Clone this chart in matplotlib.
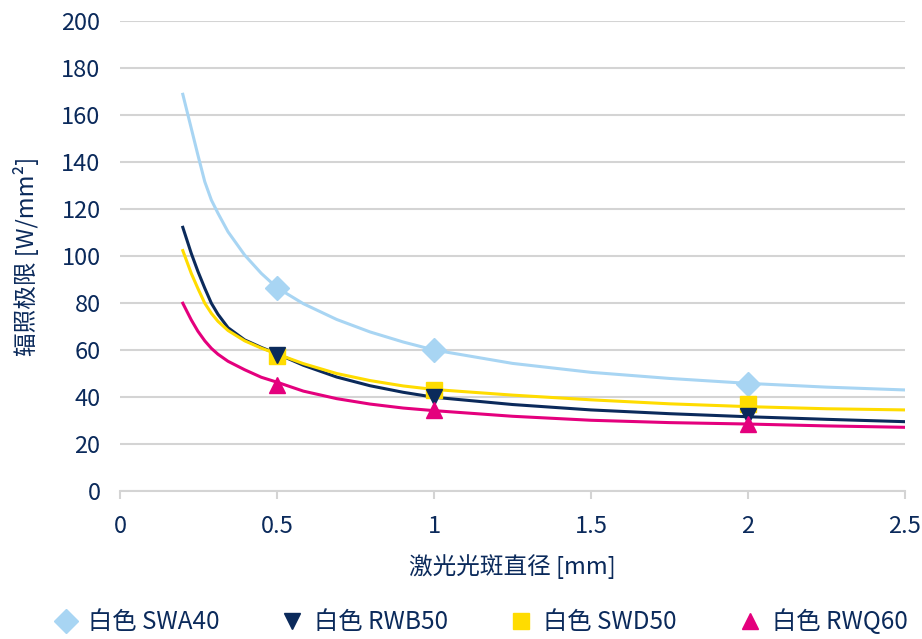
import matplotlib.pyplot as plt

plt.rcParams['font.family'] = ['Noto Sans CJK SC', 'DejaVu Sans']

# 拟合曲线
curve_x = [0.2, 0.227, 0.248, 0.27, 0.291, 0.312, 0.344, 0.397, 0.45, 0.5,
           0.584, 0.69, 0.796, 0.902, 1.0, 1.25, 1.5, 1.75, 2.0, 2.25, 2.5]
swa40_curve = [168.8, 154.3, 143, 131.6, 123.8, 118.2, 110.3, 100.4, 92.6, 86.5,
               79.7, 73, 67.7, 63.4, 60, 54.3, 50.5, 47.9, 45.8, 44.2, 43]
rwb50_curve = [112.2, 101.1, 93.5, 86.3, 79.9, 75.2, 69.5, 64.3, 61.1, 58.4,
               53.5, 48.5, 44.8, 42.0, 39.9, 36.8, 34.5, 32.9, 31.6, 30.5, 29.5]
swd50_curve = [102.3, 92.6, 86.2, 79.9, 75.6, 72.2, 68.3, 63.9, 60.8, 58.3,
               54.2, 50.0, 47.0, 44.7, 43.2, 40.8, 38.8, 37.1, 35.9, 35, 34.5]
rwq60_curve = [79.9, 72.8, 68.0, 63.9, 60.7, 58.2, 55.2, 51.6, 48.4, 46.3,
               42.5, 39.3, 37.0, 35.3, 34.2, 31.8, 30.1, 29.1, 28.5, 27.7, 27.1]

# 测量点
point_x = [0.5, 1.0, 2.0]
swa40_pts = [86.5, 59.8, 45.6]
rwb50_pts = [58, 40, 32]
swd50_pts = [57.5, 43, 37]
rwq60_pts = [45.3, 34.5, 28.5]

labels = ['白色 SWA40', '白色 RWB50', '白色 SWD50', '白色 RWQ60']
navy = '#0b2a5b'

series = [
    (swa40_curve, swa40_pts, '#a8d5f3', 'D', 12, 3),
    (rwb50_curve, rwb50_pts, '#0b2a5b', 'v', 12, 5),
    (swd50_curve, swd50_pts, '#ffdc00', 's', 12, 4),
    (rwq60_curve, rwq60_pts, '#e4007d', '^', 12, 6),
]

fig = plt.figure(figsize=(9.22, 6.39), dpi=100)
ax = fig.add_axes([120 / 922, 1 - 491 / 639, 785 / 922, 470 / 639])

handles = []
for (curve, pts, color, marker, ms, z), label in zip(series, labels):
    ax.plot(curve_x, curve, color=color, lw=2.2, zorder=2,
            solid_joinstyle='round')
    h, = ax.plot(point_x, pts, linestyle='none', marker=marker, markersize=ms,
                 color=color, zorder=z, label=label)
    handles.append(h)

ax.set_xlim(0, 2.5)
ax.set_ylim(0, 200)
ax.set_xticks([0, 0.5, 1, 1.5, 2, 2.5])
ax.set_xticklabels(['0', '0.5', '1', '1.5', '2', '2.5'])
ax.set_yticks(range(0, 201, 20))
ax.yaxis.grid(True, color='#d4d4d4', lw=1.5)
ax.set_axisbelow(True)
for s in ['top', 'right', 'left']:
    ax.spines[s].set_visible(False)
ax.spines['bottom'].set_color('#d4d4d4')
ax.spines['bottom'].set_linewidth(1.5)
ax.tick_params(axis='x', colors='#d4d4d4', length=6, width=1.5, labelcolor=navy,
               labelsize=17, pad=11)
ax.tick_params(axis='y', length=0, labelcolor=navy, labelsize=17, pad=14)

ax.set_xlabel('激光光斑直径 [mm]', color=navy, fontsize=17, labelpad=12)
ax.set_ylabel('辐照极限 [W/mm²]', color=navy, fontsize=17, labelpad=16)

fig.legend(handles=handles, loc='lower center', ncol=4, frameon=False,
           bbox_to_anchor=(0.52, -0.028), fontsize=17.5, labelcolor=navy,
           handletextpad=0.3, columnspacing=2.4, handlelength=1.2)

fig.savefig('out.png', dpi=100)
